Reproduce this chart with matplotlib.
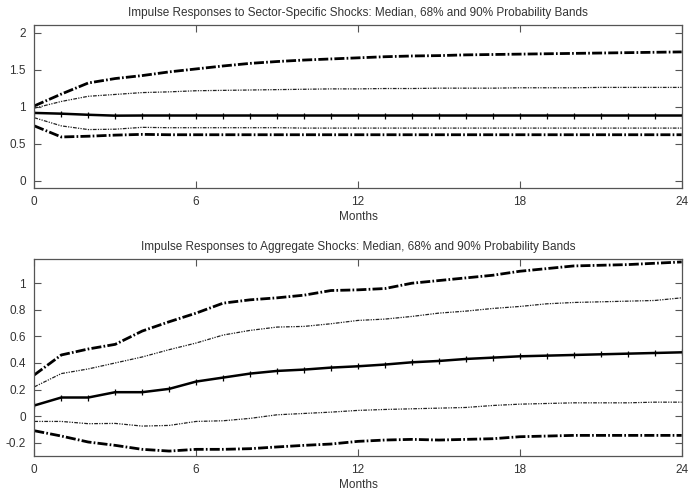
import matplotlib
matplotlib.use("Agg")
import matplotlib.pyplot as plt
import numpy as np

months = list(range(25))

# Panel 1: sector-specific shocks
sec_median = [0.915, 0.905, 0.89, 0.878, 0.88, 0.88, 0.88, 0.88, 0.88, 0.88, 0.88, 0.88, 0.88,
              0.88, 0.88, 0.88, 0.88, 0.88, 0.88, 0.88, 0.88, 0.88, 0.88, 0.88, 0.88]
sec_up90 = [1.01, 1.17, 1.32, 1.38, 1.42, 1.47, 1.51, 1.55, 1.585, 1.61, 1.63, 1.645, 1.66,
            1.675, 1.685, 1.69, 1.70, 1.705, 1.71, 1.715, 1.72, 1.725, 1.73, 1.735, 1.74]
sec_up68 = [0.98, 1.07, 1.14, 1.165, 1.19, 1.20, 1.215, 1.22, 1.225, 1.23, 1.235, 1.24, 1.24,
            1.245, 1.245, 1.25, 1.25, 1.25, 1.255, 1.255, 1.255, 1.26, 1.26, 1.26, 1.26]
sec_lo68 = [0.85, 0.74, 0.69, 0.695, 0.72, 0.715, 0.715, 0.715, 0.715, 0.715, 0.71, 0.71, 0.71,
            0.71, 0.71, 0.71, 0.71, 0.71, 0.71, 0.71, 0.71, 0.71, 0.71, 0.71, 0.71]
sec_lo90 = [0.74, 0.59, 0.60, 0.615, 0.625, 0.62, 0.62, 0.62, 0.62, 0.62, 0.62, 0.62, 0.62,
            0.62, 0.62, 0.62, 0.62, 0.62, 0.62, 0.62, 0.62, 0.62, 0.62, 0.62, 0.62]

# Panel 2: aggregate shocks
agg_median = [0.08, 0.14, 0.14, 0.18, 0.18, 0.205, 0.26, 0.29, 0.32, 0.34, 0.35, 0.365, 0.375,
              0.388, 0.405, 0.415, 0.43, 0.44, 0.45, 0.455, 0.46, 0.465, 0.47, 0.475, 0.48]
agg_up90 = [0.31, 0.46, 0.505, 0.54, 0.64, 0.71, 0.775, 0.85, 0.875, 0.89, 0.91, 0.945, 0.95,
            0.96, 1.0, 1.02, 1.04, 1.06, 1.09, 1.11, 1.13, 1.135, 1.14, 1.15, 1.16]
agg_up68 = [0.22, 0.32, 0.355, 0.40, 0.445, 0.50, 0.55, 0.61, 0.645, 0.67, 0.675, 0.695, 0.72,
            0.73, 0.75, 0.775, 0.79, 0.81, 0.825, 0.845, 0.855, 0.86, 0.865, 0.87, 0.89]
agg_lo68 = [-0.04, -0.04, -0.057, -0.055, -0.075, -0.07, -0.04, -0.035, -0.017, 0.01, 0.02, 0.03, 0.043,
            0.05, 0.055, 0.06, 0.065, 0.08, 0.09, 0.095, 0.1, 0.1, 0.1, 0.105, 0.105]
agg_lo90 = [-0.11, -0.15, -0.195, -0.22, -0.25, -0.263, -0.25, -0.25, -0.245, -0.232, -0.22, -0.21, -0.19,
            -0.18, -0.175, -0.18, -0.175, -0.17, -0.155, -0.15, -0.145, -0.145, -0.145, -0.145, -0.145]

titles = ["Impulse Responses to Sector-Specific Shocks: Median, 68% and 90% Probability Bands",
          "Impulse Responses to Aggregate Shocks: Median, 68% and 90% Probability Bands"]
xticks = [0, 6, 12, 18, 24]
yticks_top = [0, 0.5, 1, 1.5, 2]
yticklabels_top = ["0", "0.5", "1", "1.5", "2"]
yticks_bot = [-0.2, 0, 0.2, 0.4, 0.6, 0.8, 1]
yticklabels_bot = ["-0.2", "0", "0.2", "0.4", "0.6", "0.8", "1"]

plt.rcParams['font.family'] = ['Liberation Sans', 'DejaVu Sans']
plt.rcParams['font.size'] = 8.5
txtc = '#333333'

fig = plt.figure(figsize=(6.89, 4.92), dpi=100)
ax1 = fig.add_axes([0.0498, 0.6179, 0.9396, 0.3307])
ax2 = fig.add_axes([0.0498, 0.0732, 0.9396, 0.3998])

band90 = dict(color='black', lw=2.0, linestyle=(0, (3.6, 0.8, 0.6, 0.8)))
band68 = dict(color='#222222', lw=0.9, linestyle=(0, (3, 1, 1, 1, 1, 1)))
med = dict(color='black', lw=1.8, marker='|', markersize=4, mew=0.9)

def draw(ax, med_v, u90, u68, l68, l90, ylim, yt, ytl, title):
    ax.plot(months, u90, **band90)
    ax.plot(months, u68, **band68)
    ax.plot(months, med_v, **med)
    ax.plot(months, l68, **band68)
    ax.plot(months, l90, **band90)
    ax.set_xlim(0, 24)
    ax.set_ylim(*ylim)
    ax.set_xticks(xticks)
    ax.set_xticklabels([str(t) for t in xticks])
    ax.set_yticks(yt)
    ax.set_yticklabels(ytl)
    ax.tick_params(direction='in', length=5, width=0.8, colors='#555555',
                   labelcolor=txtc, top=True, right=True, pad=6)
    for s in ax.spines.values():
        s.set_color('#555555')
        s.set_linewidth(0.9)
    ax.set_xlabel("Months", color=txtc, labelpad=2)
    ax.set_title(title, color=txtc, pad=7, fontsize=8.5)

draw(ax1, sec_median, sec_up90, sec_up68, sec_lo68, sec_lo90, (-0.1, 2.1),
     yticks_top, yticklabels_top, titles[0])
draw(ax2, agg_median, agg_up90, agg_up68, agg_lo68, agg_lo90, (-0.3, 1.18),
     yticks_bot, yticklabels_bot, titles[1])

fig.savefig("out.png", dpi=100)
